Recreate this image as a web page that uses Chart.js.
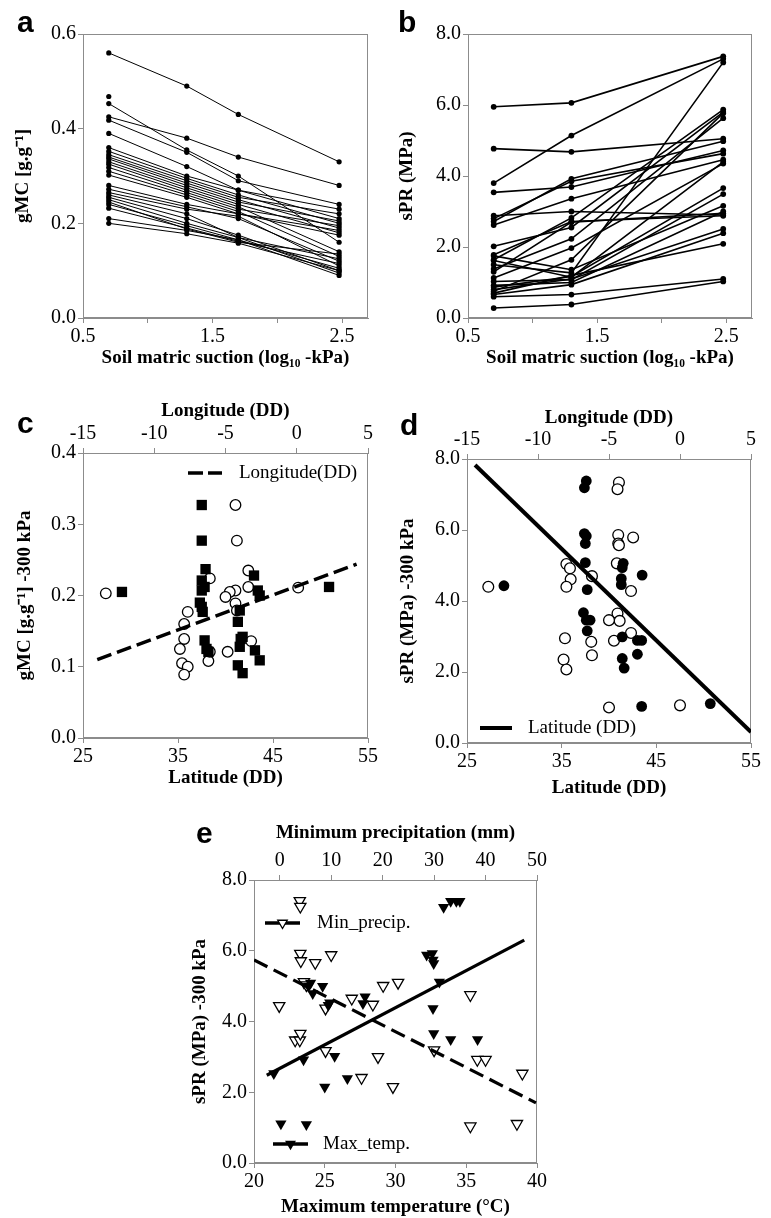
<!DOCTYPE html>
<html>
<head>
<meta charset="utf-8">
<script src="https://cdn.jsdelivr.net/npm/chart.js@4"></script>
<style>
  html, body { margin: 0; padding: 0; background: #fff; }
  #fig { position: relative; width: 771px; height: 1218px; overflow: hidden; background: #fff; }
  canvas { position: absolute; }
  .lab { position: absolute; font: bold 30px "Liberation Sans", Arial, sans-serif; line-height: 30px; color: #000; }
</style>
</head>
<body>
<div id="fig">
  <canvas id="ca" width="385" height="380" style="left:0;top:0"></canvas>
  <canvas id="cb" width="386" height="380" style="left:385px;top:0"></canvas>
  <canvas id="cc" width="385" height="410" style="left:0;top:390px"></canvas>
  <canvas id="cd" width="386" height="420" style="left:385px;top:390px"></canvas>
  <canvas id="ce" width="390" height="398" style="left:180px;top:820px"></canvas>
  <div class="lab" style="left:17px;top:7px">a</div>
  <div class="lab" style="left:398px;top:7px">b</div>
  <div class="lab" style="left:17px;top:408px">c</div>
  <div class="lab" style="left:400px;top:410px">d</div>
  <div class="lab" style="left:196px;top:818px">e</div>
</div>
<script>
// ---- panel a: gravimetric moisture vs suction ----
const suctionA = [0.699, 1.301, 1.699, 2.477];
const gmcCurves = [
  [0.560, 0.490, 0.430, 0.330],
  [0.453, 0.355, 0.300, 0.160],
  [0.425, 0.380, 0.340, 0.280],
  [0.418, 0.350, 0.290, 0.240],
  [0.390, 0.320, 0.270, 0.230],
  [0.360, 0.300, 0.270, 0.210],
  [0.352, 0.295, 0.260, 0.200],
  [0.345, 0.290, 0.255, 0.220],
  [0.340, 0.285, 0.250, 0.190],
  [0.336, 0.280, 0.245, 0.205],
  [0.330, 0.275, 0.240, 0.180],
  [0.325, 0.270, 0.235, 0.140],
  [0.318, 0.265, 0.230, 0.195],
  [0.310, 0.260, 0.225, 0.130],
  [0.302, 0.255, 0.220, 0.185],
  [0.280, 0.240, 0.220, 0.175],
  [0.272, 0.235, 0.210, 0.120],
  [0.265, 0.230, 0.215, 0.110],
  [0.260, 0.220, 0.170, 0.125],
  [0.255, 0.210, 0.175, 0.100],
  [0.250, 0.200, 0.170, 0.095],
  [0.245, 0.188, 0.160, 0.135],
  [0.240, 0.195, 0.165, 0.105],
  [0.232, 0.190, 0.162, 0.115],
  [0.210, 0.185, 0.165, 0.090],
  [0.200, 0.178, 0.158, 0.100],
];
const gmcLone = [0.468];

// ---- panel b: penetration resistance vs suction ----
const suctionB = [0.699, 1.301, 2.477];
const sprCurves = [
  [5.95, 6.06, 7.37],
  [4.77, 4.68, 5.05],
  [3.80, 5.14, 7.30],
  [3.54, 3.69, 4.72],
  [2.88, 3.00, 2.90],
  [2.80, 3.85, 4.63],
  [2.72, 3.92, 4.98],
  [2.62, 3.36, 4.46],
  [2.02, 2.55, 5.80],
  [1.78, 2.72, 2.88],
  [1.75, 1.36, 3.16],
  [1.64, 2.82, 5.87],
  [1.62, 1.15, 4.40],
  [1.50, 1.27, 7.20],
  [1.38, 2.23, 5.63],
  [1.30, 2.70, 2.95],
  [1.13, 1.97, 4.35],
  [1.03, 1.08, 3.49],
  [0.92, 1.00, 3.00],
  [0.87, 1.17, 3.66],
  [0.80, 1.10, 2.51],
  [0.75, 1.64, 5.77],
  [0.70, 1.20, 2.09],
  [0.66, 0.94, 2.39],
  [0.60, 0.66, 1.10],
  [0.28, 0.38, 1.03],
];

// ---- panel c: gMC at -300 kPa vs latitude (squares) / longitude (circles) ----
const cLat = [37.5, 37.5, 37.9, 37.5, 37.8, 37.5, 37.3, 37.5, 37.6, 37.8, 38.0, 38.2, 29.1,
  43.0, 43.4, 43.6, 50.9, 41.5, 41.3, 41.6, 41.8, 41.5, 41.3, 41.8, 43.1, 43.6];
const cLatGmc = [0.327, 0.277, 0.237, 0.221, 0.212, 0.207, 0.190, 0.184, 0.177, 0.137, 0.125, 0.121, 0.205,
  0.228, 0.207, 0.200, 0.212, 0.179, 0.163, 0.139, 0.142, 0.128, 0.102, 0.091, 0.123, 0.109];
const cLon = [-13.4, -4.3, -4.2, -3.4, -3.4, -6.1, -4.3, -4.7, -5.0, -4.3, -4.2, -7.65, -7.9,
  -7.9, -8.2, -8.05, -7.65, -7.9, -6.2, -6.1, -4.85, -3.2, 0.1];
const cLonGmc = [0.203, 0.327, 0.277, 0.235, 0.212, 0.224, 0.207, 0.205, 0.198, 0.189, 0.179, 0.177, 0.160,
  0.139, 0.125, 0.105, 0.100, 0.089, 0.108, 0.121, 0.121, 0.136, 0.211];
const cFitLon = [-14.0, 4.2];
const cFitGmc = [0.110, 0.244];

// ---- panel d: sPR at -300 kPa vs latitude (filled) / longitude (open) ----
const dLat = [37.6, 37.4, 37.4, 37.6, 37.5, 37.5, 37.7, 37.3, 37.6, 38.0, 37.7, 28.9,
  41.5, 41.4, 41.3, 41.3, 43.5, 41.4, 41.4, 41.6, 43.0, 43.45, 43.0, 43.45, 50.7];
const dLatSpr = [7.38, 7.19, 5.90, 5.83, 5.62, 5.08, 4.32, 3.67, 3.46, 3.46, 3.16, 4.43,
  5.06, 4.94, 4.63, 4.46, 4.73, 2.99, 2.38, 2.11, 2.89, 2.89, 2.50, 1.03, 1.11];
const dLon = [-13.5, -4.3, -4.4, -4.35, -4.35, -4.3, -3.3, -4.45, -8.0, -7.75, -7.7, -8.0, -6.2,
  -3.45, -4.4, -4.25, -5.0, -3.45, -8.1, -6.25, -4.65, -8.2, -8.0, -6.2, -5.0, 0.0];
const dLonSpr = [4.40, 7.34, 7.15, 5.86, 5.62, 5.57, 5.79, 5.06, 5.04, 4.92, 4.61, 4.40, 4.70,
  4.28, 3.65, 3.44, 3.46, 3.10, 2.95, 2.85, 2.88, 2.35, 2.07, 2.47, 1.00, 1.06];
const dFitLat = [25.85, 55.0];
const dFitSpr = [7.83, 0.31];

// ---- panel e: sPR at -300 kPa vs max temperature (filled) / min precipitation (open) ----
const eTemp = [33.4, 33.9, 34.3, 34.55, 32.2, 32.6, 32.65, 32.7, 33.1, 32.65, 32.7, 33.9, 35.8,
  24.0, 23.85, 24.15, 24.85, 25.35, 25.25, 27.85, 27.7, 23.5, 25.7, 21.4, 25.0, 26.6, 21.9, 23.7];
const eTempSpr = [7.23, 7.40, 7.40, 7.40, 5.88, 5.92, 5.74, 5.64, 5.12, 4.37, 3.66, 3.49, 3.49,
  5.09, 5.00, 4.79, 5.00, 4.53, 4.46, 4.70, 4.51, 2.92, 3.02, 2.53, 2.15, 2.39, 1.11, 1.09];
const ePrecip = [3.9, 4.0, 4.0, 4.1, 6.9, 10.0, 4.7, 5.2, -0.1, 8.9, 18.1, 14.0, 20.1, 23.0,
  3.0, 3.9, 4.0, 8.9, 19.1, 15.9, 22.0, 30.0, 37.05, 38.4, 40.0, 47.15, 37.05, 46.1];
const ePrecipSpr = [7.41, 7.25, 5.92, 5.71, 5.66, 5.88, 5.12, 5.03, 4.44, 4.37, 4.48, 4.65, 5.01, 5.10,
  3.47, 3.47, 3.66, 3.17, 3.00, 2.41, 2.15, 3.19, 4.75, 2.92, 2.92, 2.53, 1.04, 1.11];
const eFitTemp = [20.9, 39.1];
const eFitTempSpr = [2.48, 6.30];
const eFitPrecip = [-5.0, 49.8];
const eFitPrecipSpr = [5.74, 1.70];

// ---- tick values ----
const suctionTicks = [0.5, 1.0, 1.5, 2.0, 2.5];
const suctionLabels = [0.5, 1.5, 2.5];
const gmcTicks = [0, 0.2, 0.4, 0.6];
const gmc300Ticks = [0, 0.1, 0.2, 0.3, 0.4];
const sprTicks = [0, 2, 4, 6, 8];
const latTicks = [25, 35, 45, 55];
const lonTicks = [-15, -10, -5, 0, 5];
const tempTicks = [20, 25, 30, 35, 40];
const precipTicks = [0, 10, 20, 30, 40, 50];

const GREY = '#8c8c8c';
const SERIF = '"Liberation Serif", "Times New Roman", serif';
const tickFont = { family: SERIF, size: 20 };
const titleFont = { family: SERIF, size: 19, weight: 'bold' };
const fix1 = (v) => v.toFixed(1);
const plain = (v) => String(v);

Chart.defaults.font.family = SERIF;
Chart.defaults.color = '#000';

function axis(pos, min, max, tickVals, labelVals, fmt, size, title, titlePad) {
  const vertical = pos === 'left' || pos === 'right';
  return {
    type: 'linear',
    axis: vertical ? 'y' : 'x',
    position: pos,
    min,
    max,
    afterBuildTicks: (s) => { s.ticks = tickVals.map((v) => ({ value: v })); },
    afterFit: (s) => { if (vertical) s.width = size; else s.height = size; },
    ticks: {
      font: tickFont,
      color: '#000',
      padding: 2,
      autoSkip: false,
      maxRotation: 0,
      callback: (v) => (labelVals.some((l) => Math.abs(l - v) < 1e-9) ? fmt(v) : ''),
    },
    grid: { drawOnChartArea: false, drawTicks: true, tickLength: 5, color: GREY, lineWidth: 1 },
    border: { display: true, color: GREY, width: 1 },
    title: { display: true, text: title, font: titleFont, color: '#000', padding: titlePad },
  };
}

// grey box round the plot area
const framePlugin = {
  id: 'frame',
  beforeDatasetsDraw(chart) {
    const { ctx, chartArea: a } = chart;
    ctx.save();
    ctx.strokeStyle = GREY;
    ctx.lineWidth = 1;
    const l = Math.round(a.left) + 0.5, t = Math.round(a.top) + 0.5;
    const r = Math.round(a.right) - 0.5, b = Math.round(a.bottom) - 0.5;
    ctx.strokeRect(l, t, r - l, b - t);
    ctx.restore();
  },
};

function downTriangle(ctx, x, y, r, filled) {
  ctx.beginPath();
  ctx.moveTo(x, y + r);
  ctx.lineTo(x - r * 0.866, y - r / 2);
  ctx.lineTo(x + r * 0.866, y - r / 2);
  ctx.closePath();
  ctx.fillStyle = filled ? '#000' : '#fff';
  ctx.fill();
  ctx.lineWidth = 1.3;
  ctx.strokeStyle = '#000';
  ctx.stroke();
}

// hand placed legends, offsets relative to the chart area
const legendPlugin = {
  id: 'panelLegend',
  afterDatasetsDraw(chart, args, opts) {
    const { ctx, chartArea } = chart;
    (opts.items || []).forEach((it) => {
      const y = chartArea.top + it.dy;
      const x0 = chartArea.left + it.x0;
      const x1 = chartArea.left + it.x1;
      ctx.save();
      ctx.strokeStyle = '#000';
      ctx.lineWidth = it.width;
      ctx.setLineDash(it.dash || []);
      ctx.beginPath();
      ctx.moveTo(x0, y);
      ctx.lineTo(x1, y);
      ctx.stroke();
      ctx.setLineDash([]);
      if (it.marker) {
        downTriangle(ctx, (x0 + x1) / 2, y, it.marker.r, it.marker.filled);
      }
      ctx.fillStyle = '#000';
      ctx.font = '19px ' + SERIF;
      ctx.textBaseline = 'middle';
      ctx.textAlign = 'left';
      ctx.fillText(it.text, chartArea.left + it.tx, y);
      ctx.restore();
    });
  },
};

Chart.register(framePlugin, legendPlugin);

const pts = (xs, ys) => ys.map((y, i) => ({ x: xs[i], y }));

function makeChart(id, datasets, scales, padding, items) {
  return new Chart(document.getElementById(id), {
    type: 'scatter',
    data: { datasets },
    options: {
      responsive: false,
      animation: false,
      events: [],
      layout: { padding },
      plugins: {
        legend: { display: false },
        tooltip: { enabled: false },
        panelLegend: { items: items || [] },
      },
      scales,
    },
  });
}

function curveSet(curves, xs, width, radius) {
  return curves.map((c) => ({
    data: pts(xs, c),
    showLine: true,
    borderColor: '#000',
    borderWidth: width,
    pointRadius: radius,
    pointBackgroundColor: '#000',
    pointBorderWidth: 0,
  }));
}

function fitLine(xs, ys, axisId, width, dash) {
  return {
    data: pts(xs, ys),
    xAxisID: axisId,
    showLine: true,
    borderColor: '#000',
    borderWidth: width,
    borderDash: dash || [],
    pointRadius: 0,
    order: 0,
  };
}

function markerSet(xs, ys, axisId, style, radius, filled, rotation) {
  return {
    data: pts(xs, ys),
    xAxisID: axisId,
    pointStyle: style,
    pointRadius: radius,
    pointRotation: rotation || 0,
    pointBackgroundColor: filled ? '#000' : '#fff',
    pointBorderColor: '#000',
    pointBorderWidth: filled ? 0 : 1.3,
    order: 1,
  };
}

const suctionTitle = 'Soil matric suction (log\u2081\u2080 -kPa)';

// panel a
makeChart('ca',
  curveSet(gmcCurves, suctionA, 1, 2.6).concat([{
    data: pts(suctionA, gmcLone), pointRadius: 2.6, pointBackgroundColor: '#000', pointBorderWidth: 0,
  }]),
  {
    x: axis('bottom', 0.5, 2.7, suctionTicks, suctionLabels, fix1, 62, suctionTitle, { top: 0, bottom: 11 }),
    y: axis('left', 0, 0.6, gmcTicks, gmcTicks, fix1, 83, 'gMC [g.g\u207B\u00B9]', { top: 12, bottom: 0 }),
  },
  { left: 0, top: 34, right: 17, bottom: 0 });

// panel b
makeChart('cb',
  curveSet(sprCurves, suctionB, 1.6, 2.9),
  {
    x: axis('bottom', 0.5, 2.7, suctionTicks, suctionLabels, fix1, 62, suctionTitle, { top: 0, bottom: 11 }),
    y: axis('left', 0, 8, sprTicks, sprTicks, fix1, 83, 'sPR (MPa)', { top: 11, bottom: 0 }),
  },
  { left: 0, top: 34, right: 19, bottom: 0 });

// panel c
makeChart('cc',
  [
    fitLine(cFitLon, cFitGmc, 'x2', 3.5, [15, 6]),
    markerSet(cLat, cLatGmc, 'x', 'rect', 7.3, true),
    markerSet(cLon, cLonGmc, 'x2', 'circle', 5.3, false),
  ],
  {
    x: axis('bottom', 25, 55, latTicks, latTicks, plain, 62, 'Latitude (DD)', { top: 0, bottom: 11 }),
    x2: axis('top', -15, 5, lonTicks, lonTicks, plain, 63, 'Longitude (DD)', { top: 10, bottom: 0 }),
    y: axis('left', 0, 0.4, gmc300Ticks, gmc300Ticks, fix1, 83, 'gMC [g.g\u207B\u00B9] -300 kPa', { top: 14, bottom: 0 }),
  },
  { left: 0, top: 0, right: 17, bottom: 0 },
  [{ x0: 105, x1: 139, dy: 20, tx: 156, width: 3.5, dash: [15, 5], text: 'Longitude(DD)' }]);

// panel d
makeChart('cd',
  [
    fitLine(dFitLat, dFitSpr, 'x', 4),
    markerSet(dLat, dLatSpr, 'x', 'circle', 5.4, true),
    markerSet(dLon, dLonSpr, 'x2', 'circle', 5.4, false),
  ],
  {
    x: axis('bottom', 25, 55, latTicks, latTicks, plain, 67, 'Latitude (DD)', { top: 0, bottom: 11 }),
    x2: axis('top', -15, 5, lonTicks, lonTicks, plain, 69, 'Longitude (DD)', { top: 17, bottom: 0 }),
    y: axis('left', 0, 8, sprTicks, sprTicks, fix1, 82, 'sPR (MPa) -300 kPa', { top: 12, bottom: 0 }),
  },
  { left: 0, top: 0, right: 20, bottom: 0 },
  [{ x0: 13, x1: 45, dy: 269, tx: 61, width: 4, text: 'Latitude (DD)' }]);

// panel e
makeChart('ce',
  [
    fitLine(eFitTemp, eFitTempSpr, 'x', 3.2),
    fitLine(eFitPrecip, eFitPrecipSpr, 'x2', 3.2, [15, 7]),
    markerSet(eTemp, eTempSpr, 'x', 'triangle', 6.5, true, 180),
    markerSet(ePrecip, ePrecipSpr, 'x2', 'triangle', 6.5, false, 180),
  ],
  {
    x: axis('bottom', 20, 40, tempTicks, tempTicks, plain, 55, 'Maximum temperature (\u00B0C)', { top: 0, bottom: 0 }),
    x2: axis('top', -5, 50, precipTicks, precipTicks, plain, 60, 'Minimum precipitation (mm)', { top: 2, bottom: 0 }),
    y: axis('left', 0, 8, sprTicks, sprTicks, fix1, 74, 'sPR (MPa) -300 kPa', { top: 9, bottom: 0 }),
  },
  { left: 0, top: 0, right: 33, bottom: 0 },
  [
    { x0: 11, x1: 46, dy: 43, tx: 63, width: 3.5, marker: { r: 5.5, filled: false }, text: 'Min_precip.' },
    { x0: 19, x1: 54, dy: 264, tx: 69, width: 3.5, marker: { r: 5, filled: true }, text: 'Max_temp.' },
  ]);
</script>
</body>
</html>
